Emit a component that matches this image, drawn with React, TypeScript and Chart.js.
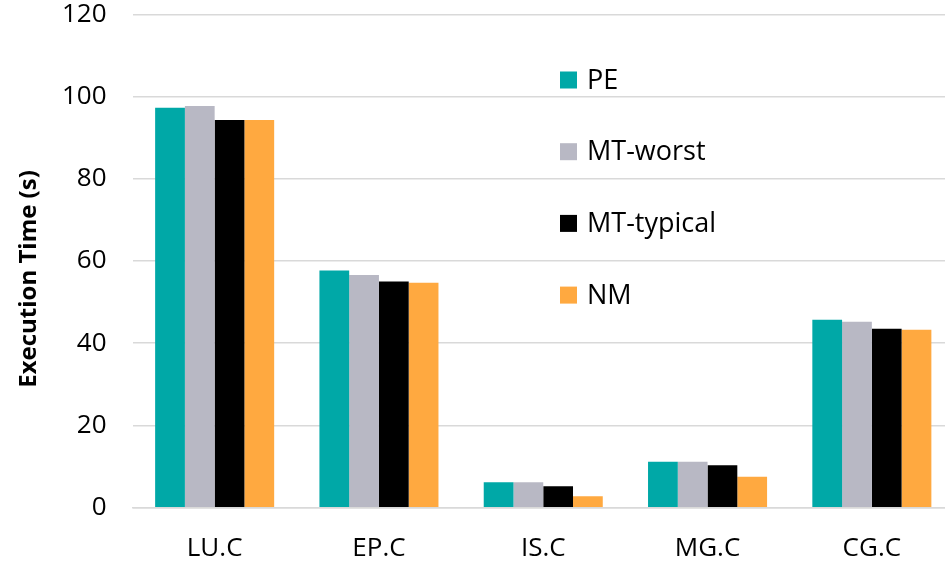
import React, { useEffect, useRef } from "react";
import { Chart, registerables } from "chart.js";

Chart.register(...registerables);

const categories = ["LU.C", "EP.C", "IS.C", "MG.C", "CG.C"];
const seriesNames = ["PE", "MT-worst", "MT-typical", "NM"];
const peValues = [97.3, 57.7, 6.2, 11.2, 45.7];
const mtWorstValues = [97.7, 56.6, 6.2, 11.2, 45.2];
const mtTypicalValues = [94.3, 55.0, 5.2, 10.3, 43.5];
const nmValues = [94.3, 54.7, 2.8, 7.5, 43.3];
const seriesColors = ["#00A8A7", "#B8B8C4", "#000000", "#FFA940"];
const yTicks = [0, 20, 40, 60, 80, 100, 120];
const yTitle = "Execution Time (s)";

const FONT = "'Open Sans', 'Noto Sans', sans-serif";

const legendPlugin = {
  id: "insideLegend",
  afterDraw(chart: any) {
    const ctx = chart.ctx;
    const opts = chart.options.plugins.insideLegend;
    ctx.save();
    ctx.font = `${opts.fontSize}px ${FONT}`;
    ctx.textBaseline = "middle";
    ctx.textAlign = "left";
    chart.data.datasets.forEach((ds: any, i: number) => {
      const cy = opts.y0 + i * opts.step;
      ctx.fillStyle = ds.backgroundColor;
      ctx.fillRect(opts.x, cy - opts.box / 2, opts.box, opts.box);
      ctx.fillStyle = "#000";
      ctx.fillText(ds.label, opts.textX, cy + 1);
    });
    // y-axis title
    const t = opts.title;
    ctx.translate(t.x, t.y);
    ctx.rotate(-Math.PI / 2);
    ctx.font = `bold ${t.fontSize}px ${FONT}`;
    ctx.textAlign = "center";
    ctx.fillText(t.text, 0, 0);
    ctx.restore();
  },
};

export default function App() {
  const ref = useRef<HTMLCanvasElement | null>(null);
  useEffect(() => {
    if (!ref.current) return;
    const values = [peValues, mtWorstValues, mtTypicalValues, nmValues];
    const chart = new Chart(ref.current, {
      type: "bar",
      data: {
        labels: categories,
        datasets: seriesNames.map((name, i) => ({
          label: name,
          data: values[i],
          backgroundColor: seriesColors[i],
          borderWidth: 0,
          categoryPercentage: 0.7245,
          barPercentage: 1.0,
        })),
      },
      plugins: [legendPlugin],
      options: {
        animation: false,
        responsive: false,
        maintainAspectRatio: false,
        devicePixelRatio: 1,
        layout: { padding: { top: 14.3, left: 0, right: 0, bottom: 0 } },
        plugins: {
          legend: { display: false },
          tooltip: { enabled: false },
          insideLegend: {
            x: 560,
            textX: 587,
            box: 17,
            y0: 80,
            step: 71.7,
            fontSize: 27,
            title: { text: yTitle, x: 29, y: 279, fontSize: 24 },
          },
        } as any,
        scales: {
          x: {
            grid: { display: false, drawTicks: false },
            border: { display: true, color: "#D9D9D9", width: 1.5 },
            ticks: {
              color: "#000",
              font: { family: FONT, size: 26 },
              padding: 25,
            },
            afterFit: (scale: any) => {
              scale.height = 58.3;
              scale.paddingLeft = 0;
              scale.paddingRight = 0;
            },
          },
          y: {
            min: 0,
            max: 120,
            afterBuildTicks: (scale: any) => {
              scale.ticks = yTicks.map((v) => ({ value: v }));
            },
            grid: { color: "#D9D9D9", lineWidth: 1.5, drawTicks: false },
            border: { display: false },
            ticks: {
              color: "#000",
              font: { family: FONT, size: 26, lineHeight: 1.0 },
              padding: 26,
            },
            afterFit: (scale: any) => {
              scale.width = 132.5;
              scale.paddingTop = 0;
              scale.paddingBottom = 0;
            },
          },
        },
      },
    });
    return () => chart.destroy();
  }, []);
  return (
    <div
      style={{
        position: "fixed",
        left: 0,
        top: 0,
        width: 945,
        height: 566,
        overflow: "hidden",
        background: "#fff",
      }}
    >
      <canvas ref={ref} width={954} height={566} style={{ display: "block" }} />
    </div>
  );
}
